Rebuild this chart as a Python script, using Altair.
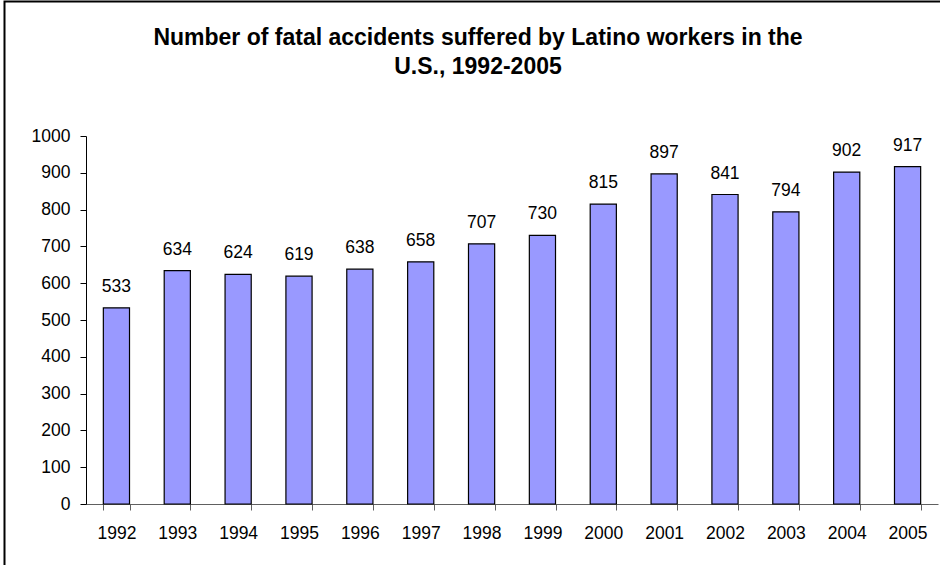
import altair as alt
import pandas as pd

years = ["1992", "1993", "1994", "1995", "1996", "1997", "1998", "1999",
         "2000", "2001", "2002", "2003", "2004", "2005"]
values = [533, 634, 624, 619, 638, 658, 707, 730, 815, 897, 841, 794, 902, 917]
title_lines = ["Number of fatal accidents suffered by Latino workers in the",
               "U.S., 1992-2005"]

df = pd.DataFrame({"year": years, "value": values})

PL, PT, W, H = 86, 136, 852, 368
FONT = "Liberation Sans"
FS = 17.5

x = alt.X("year:N", sort=years, title=None,
          scale=alt.Scale(paddingInner=0.57, paddingOuter=0.285),
          axis=alt.Axis(labelAngle=0, labelFontSize=FS, labelColor="black",
                        labelFont=FONT, tickSize=6, tickColor="#606060",
                        domainColor="#606060", tickBand="extent",
                        labelPadding=14, labelBaseline="top", grid=False))
y = alt.Y("value:Q", title=None,
          scale=alt.Scale(domain=[0, 1000], nice=False),
          axis=alt.Axis(values=list(range(0, 1001, 100)), format="d",
                        labelFontSize=FS, labelColor="black", labelFont=FONT,
                        tickSize=6, tickColor="black", domainColor="black",
                        labelPadding=10, grid=False))

base = alt.Chart(df)
bars = base.mark_bar(color="#9999FF", stroke="black", strokeWidth=1.2).encode(x=x, y=y)
labels = base.mark_text(fontSize=FS, font=FONT, color="black", baseline="alphabetic",
                        dy=-16).encode(x=x, y=y, text="value:Q")

def title_line(text, ybase):
    return alt.Chart(pd.DataFrame({"t": [text]})).mark_text(
        fontSize=23, fontWeight="bold", font=FONT, color="black",
        baseline="alphabetic", align="center").encode(
        x=alt.value(478 - PL), y=alt.value(ybase - PT), text="t:N")

title1 = title_line(title_lines[0], 44.5)
title2 = title_line(title_lines[1], 74)

border = alt.Chart(pd.DataFrame({"a": [0]})).mark_rect(
    fill=None, filled=False, stroke="black", strokeWidth=2).encode(
    x=alt.value(4.5 - PL), x2=alt.value(W + 100), y=alt.value(1.5 - PT), y2=alt.value(H + 200))

chart = alt.layer(border, bars, labels, title1, title2).properties(
    width=W, height=H,
    background="white",
    autosize=alt.AutoSizeParams(type="none"),
    padding={"left": PL, "top": PT, "right": 940 - PL - W, "bottom": 565 - PT - H},
).configure_view(stroke="transparent", strokeWidth=0)

chart.save("out.html", embed_options={"renderer": "svg", "actions": False})
